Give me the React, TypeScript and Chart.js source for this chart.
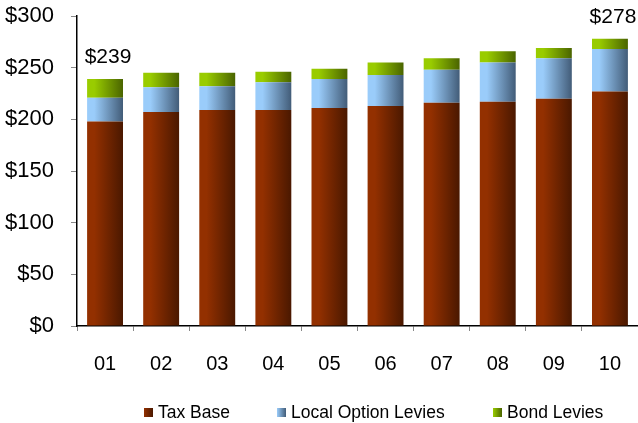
import React, { useEffect, useRef } from "react";
import { Chart, registerables } from "chart.js";

Chart.register(...registerables);

const categories = ["01", "02", "03", "04", "05", "06", "07", "08", "09", "10"];
const taxBase = [198, 207, 209, 209, 211, 213, 216, 217, 220, 227];
const localOptionLevies = [23, 24, 23, 27, 28, 30, 32, 38, 39, 41];
const bondLevies = [18, 14, 13, 10, 10, 12, 11, 11, 10, 10];
const annotatedIndices = [0, 9];
const yTicks = [0, 50, 100, 150, 200, 250, 300];

const seriesNames = ["Tax Base", "Local Option Levies", "Bond Levies"];
const lightColors = ["#933000", "#9ACCFA", "#99CC00"];
const darkColors = ["#4A1800", "#425C78", "#4A6400"];

const FONT = "'Liberation Sans', Arial, sans-serif";
const BAR_PCT = 0.64;

function makeGradient(chart: any, index: number, ds: number) {
  const xScale = chart.scales?.x;
  const ctx = chart.ctx;
  if (!xScale || !ctx) return lightColors[ds];
  const center = xScale.getPixelForValue(index);
  const catW = xScale.width / categories.length;
  const w = catW * BAR_PCT;
  const x0 = center - w / 2;
  const x1 = center + w / 2;
  if (!isFinite(x0) || !isFinite(x1)) return lightColors[ds];
  const g = ctx.createLinearGradient(x0, 0, x1, 0);
  g.addColorStop(0, lightColors[ds]);
  g.addColorStop(0.2, lightColors[ds]);
  g.addColorStop(1, darkColors[ds]);
  return g;
}

const totalsPlugin = {
  id: "totalsPlugin",
  afterDatasetsDraw(chart: any) {
    const ctx = chart.ctx;
    const x = chart.scales.x;
    const y = chart.scales.y;
    ctx.save();
    ctx.font = "21px " + FONT;
    ctx.fillStyle = "#000";
    ctx.textAlign = "center";
    ctx.textBaseline = "bottom";
    annotatedIndices.forEach((i) => {
      const total = taxBase[i] + localOptionLevies[i] + bondLevies[i];
      const px = x.getPixelForValue(i);
      const py = y.getPixelForValue(total);
      ctx.fillText("$" + total, px + 3, py - 11);
    });
    ctx.restore();
  },
};

function LegendBox({ i }: { i: number }) {
  return (
    <span
      style={{
        display: "inline-block",
        width: 9,
        height: 9,
        marginRight: 5,
        background: `linear-gradient(to right, ${lightColors[i]}, ${darkColors[i]})`,
      }}
    />
  );
}

export default function App() {
  const canvasRef = useRef<HTMLCanvasElement | null>(null);

  useEffect(() => {
    const canvas = canvasRef.current;
    if (!canvas) return;
    const seriesData = [taxBase, localOptionLevies, bondLevies];
    const chart = new Chart(canvas, {
      type: "bar",
      data: {
        labels: categories,
        datasets: seriesData.map((d, ds) => ({
          label: seriesNames[ds],
          data: d,
          backgroundColor: (c: any) => makeGradient(c.chart, c.dataIndex, ds),
          borderWidth: 0,
          barPercentage: BAR_PCT,
          categoryPercentage: 1,
        })),
      },
      options: {
        animation: false,
        responsive: false,
        maintainAspectRatio: false,
        layout: { padding: 0 },
        plugins: {
          tooltip: { enabled: false },
          legend: { display: false },
        },
        scales: {
          x: {
            stacked: true,
            border: { color: "#000", width: 1.5 },
            grid: {
              offset: true,
              drawOnChartArea: false,
              drawTicks: true,
              tickLength: 5,
              color: "#888",
            },
            afterFit: (axis: any) => {
              axis.height = 97;
              axis.paddingLeft = 0;
              axis.paddingRight = 0;
            },
            ticks: {
              color: "#000",
              padding: 21,
              font: { size: 20, family: FONT },
            },
          },
          y: {
            stacked: true,
            min: 0,
            max: 300,
            border: { color: "#000", width: 1.5 },
            grid: {
              drawOnChartArea: false,
              drawTicks: true,
              tickLength: 6,
              color: "#888",
            },
            afterBuildTicks: (axis: any) => {
              axis.ticks = yTicks.map((v) => ({ value: v }));
            },
            afterFit: (axis: any) => {
              axis.width = 77;
              axis.paddingTop = 16;
              axis.paddingBottom = 0;
            },
            ticks: {
              color: "#000",
              padding: 17,
              font: { size: 22, family: FONT },
              callback: (v: any) => "$" + v,
            },
          },
        },
      },
      plugins: [totalsPlugin],
    } as any);
    return () => chart.destroy();
  }, []);

  const legendLeft = [144, 277, 493];
  return (
    <div style={{ position: "fixed", left: 0, top: 0, width: 638, height: 423, background: "#fff", overflow: "hidden" }}>
      <canvas ref={canvasRef} width={638} height={423} style={{ width: 638, height: 423, display: "block" }} />
      {seriesNames.map((n, i) => (
        <div
          key={n}
          style={{
            position: "absolute",
            left: legendLeft[i],
            top: 402,
            height: 20,
            display: "flex",
            alignItems: "center",
            fontFamily: FONT,
            fontSize: 17.5,
            color: "#000",
            whiteSpace: "nowrap",
          }}
        >
          <LegendBox i={i} />
          {n}
        </div>
      ))}
    </div>
  );
}
